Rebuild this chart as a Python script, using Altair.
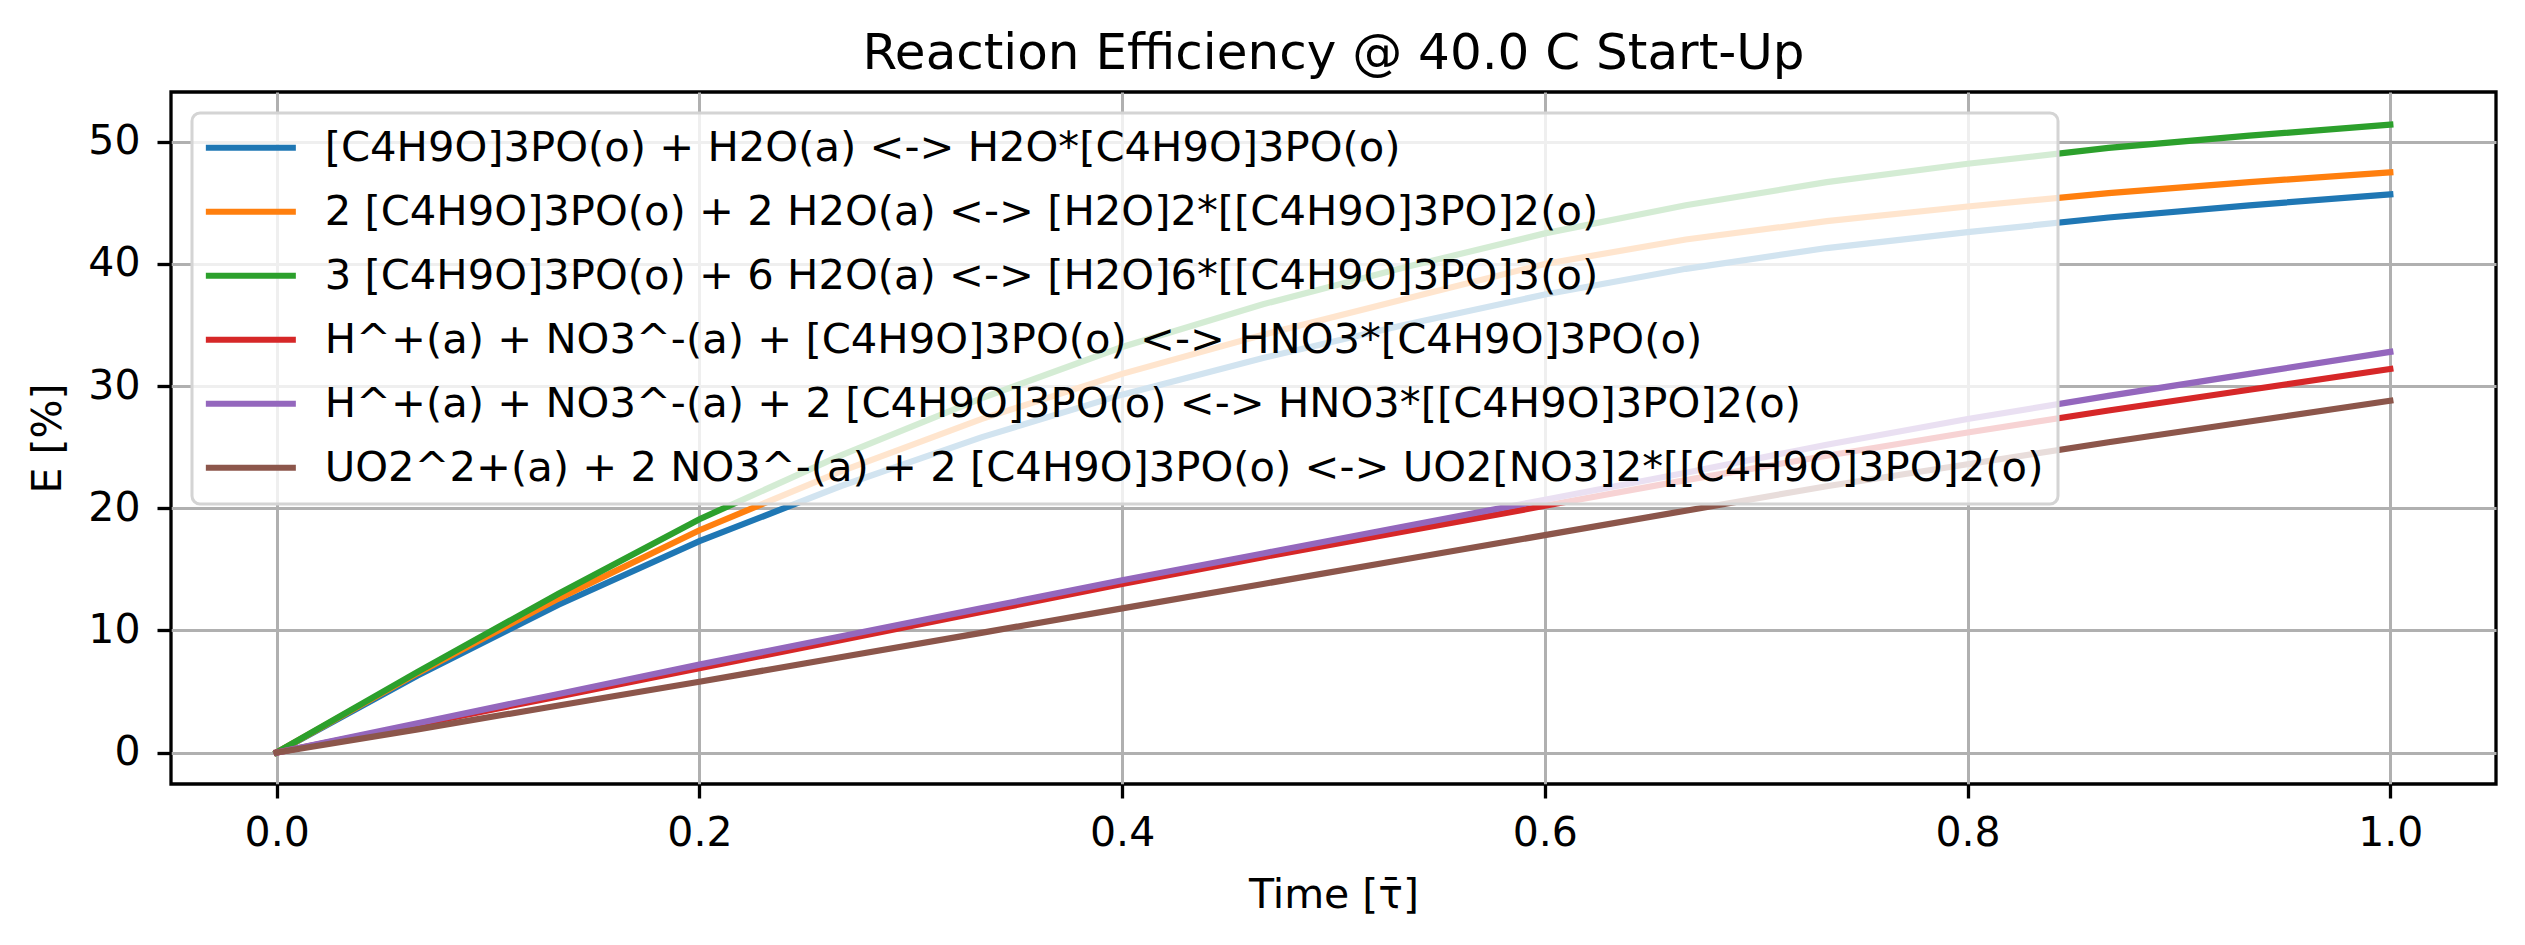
import altair as alt
import pandas as pd

# Time points (fraction of tau)
time = [0.0, 1/15, 2/15, 3/15, 4/15, 5/15, 6/15, 7/15, 8/15, 9/15, 10/15,
        11/15, 12/15, 13/15, 14/15, 1.0]

labels = [
    "[C4H9O]3PO(o) + H2O(a) <-> H2O*[C4H9O]3PO(o)",
    "2 [C4H9O]3PO(o) + 2 H2O(a) <-> [H2O]2*[[C4H9O]3PO]2(o)",
    "3 [C4H9O]3PO(o) + 6 H2O(a) <-> [H2O]6*[[C4H9O]3PO]3(o)",
    "H^+(a) + NO3^-(a) + [C4H9O]3PO(o) <-> HNO3*[C4H9O]3PO(o)",
    "H^+(a) + NO3^-(a) + 2 [C4H9O]3PO(o) <-> HNO3*[[C4H9O]3PO]2(o)",
    "UO2^2+(a) + 2 NO3^-(a) + 2 [C4H9O]3PO(o) <-> UO2[NO3]2*[[C4H9O]3PO]2(o)",
]

e_blue = [0, 6.3, 12.1, 17.3, 21.8, 25.8, 29.3, 32.3, 35.0, 37.5, 39.6, 41.3, 42.6, 43.8, 44.8, 45.7]
e_orange = [0, 6.5, 12.6, 18.2, 23.0, 27.3, 31.0, 34.2, 37.1, 40.0, 42.0, 43.5, 44.7, 45.8, 46.7, 47.5]
e_green = [0, 6.6, 13.0, 19.1, 24.3, 29.0, 33.2, 36.7, 39.7, 42.5, 44.8, 46.7, 48.2, 49.5, 50.5, 51.4]
e_red = [0, 2.3, 4.6, 6.9, 9.2, 11.5, 13.8, 16.0, 18.1, 20.2, 22.3, 24.3, 26.2, 28.0, 29.7, 31.4]
e_purple = [0, 2.4, 4.8, 7.2, 9.5, 11.8, 14.1, 16.3, 18.5, 20.7, 22.9, 25.2, 27.3, 29.2, 31.0, 32.8]
e_brown = [0, 1.9, 3.85, 5.8, 7.8, 9.8, 11.8, 13.8, 15.8, 17.8, 19.8, 21.8, 23.6, 25.4, 27.1, 28.8]

series = [e_blue, e_orange, e_green, e_red, e_purple, e_brown]
colors = ["#1f77b4", "#ff7f0e", "#2ca02c", "#d62728", "#9467bd", "#8c564b"]

rows = []
for lab, vals in zip(labels, series):
    for t, v in zip(time, vals):
        rows.append({"t": t, "E": v, "reaction": lab})
df = pd.DataFrame(rows)

FONT = "DejaVu Sans"

chart = alt.Chart(df).mark_line(strokeWidth=6.2, strokeCap="square").encode(
    x=alt.X("t:Q",
            scale=alt.Scale(domain=[-0.05, 1.05], nice=False, zero=False),
            axis=alt.Axis(title="Time [τ̄]", values=[0, 0.2, 0.4, 0.6, 0.8, 1.0], format=".1f",
                          titleY=123, titleBaseline="alphabetic", labelPadding=15)),
    y=alt.Y("E:Q",
            scale=alt.Scale(domain=[-2.575, 54.075], nice=False, zero=False),
            axis=alt.Axis(title="E [%]", values=[0, 10, 20, 30, 40, 50], format="d",
                          titleX=-111, titleY=346, titleAngle=270, titleBaseline="alphabetic",
                          titleAlign="center", labelPadding=17)),
    color=alt.Color("reaction:N",
                    scale=alt.Scale(domain=labels, range=colors),
                    sort=labels,
                    legend=alt.Legend(orient="none", legendX=21, legendY=21, title=None,
                                      symbolType="M-3,0H3", symbolSize=900, symbolStrokeWidth=6,
                                      symbolOffset=24,
                                      labelFontSize=41.7, labelFont=FONT, labelLimit=3000,
                                      labelColor="black",
                                      labelOffset=53, rowPadding=21, padding=14,
                                      fillColor="rgba(255,255,255,0.8)", strokeColor="#d4d4d4",
                                      cornerRadius=8)),
    order=alt.Order("t:Q"),
).properties(
    width=2325,
    height=692,
    title=alt.TitleParams("Reaction Efficiency @ 40.0 C Start-Up", fontSize=50, font=FONT,
                          fontWeight="normal", anchor="middle", frame="group",
                          color="black", offset=13),
    autosize=alt.AutoSizeParams(type="none"),
    padding={"left": 171, "top": 92, "right": 29, "bottom": 161},
).configure(
    background="white"
).configure_view(
    stroke="black", strokeWidth=3.3
).configure_axis(
    labelFont=FONT, labelFontSize=41, labelColor="black",
    titleFont=FONT, titleFontSize=41, titleFontWeight="normal", titleColor="black",
    grid=True, gridColor="#b0b0b0", gridWidth=3, gridOpacity=1,
    domain=False, ticks=True, tickColor="black", tickWidth=3.3, tickSize=14,
).configure_legend(
    strokeWidth=3
)

chart.save("out.html", embed_options={"renderer": "svg", "actions": False})
